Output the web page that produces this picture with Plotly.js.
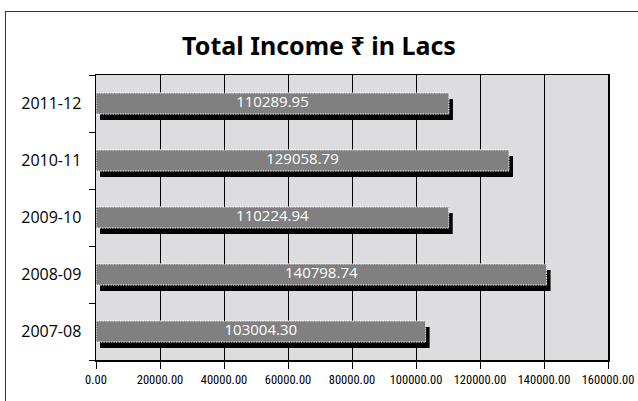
<!DOCTYPE html>
<html><head><meta charset="utf-8">
<script src="https://cdn.plot.ly/plotly-3.0.1.min.js"></script>
<style>
html,body{margin:0;padding:0;background:#fff;}
#wrap{position:relative;width:638px;height:401px;overflow:hidden;}
#frame{position:absolute;left:5px;top:11px;width:700px;height:500px;border:1.5px solid #333;pointer-events:none;z-index:5;}
#chart{position:absolute;left:0;top:0;width:638px;height:401px;}
</style></head>
<body><div id="wrap"><div id="chart"></div><div id="frame"></div></div>
<script>
const years = ["2007-08","2008-09","2009-10","2010-11","2011-12"];
const income = [103004.30,140798.74,110224.94,129058.79,110289.95];
const labels = ["103004.30","140798.74","110224.94","129058.79","110289.95"];
const xTicks = [0,20000,40000,60000,80000,100000,120000,140000,160000];

const shadow = {type:'bar',orientation:'h',y:years,x:income,width:0.37,
  marker:{color:'#000'},hoverinfo:'skip',showlegend:false};
const main = {type:'bar',orientation:'h',y:years,x:income,width:0.37,
  marker:{color:'#808080',line:{color:'#ffffff',width:1}},
  textposition:'none',showlegend:false};
// value labels centred in each bar (midpoint of the bar, from the data)
const valueText = {type:'scatter',mode:'text',y:years,x:income.map(v=>v/2),
  text:labels,textposition:'middle center',
  textfont:{color:'#ffffff',size:15,family:'"Open Sans", "Noto Sans", sans-serif'},
  hoverinfo:'skip',showlegend:false,cliponaxis:false};

const layout = {
  width:638,height:401,
  margin:{l:96,r:30,t:75,b:41,pad:0},
  paper_bgcolor:'#ffffff',plot_bgcolor:'#dddddf',
  barmode:'overlay',
  title:{text:'Total Income ₹ in Lacs',x:0.5,xanchor:'center',y:0.885,yanchor:'middle',
    font:{family:'"Noto Sans", "DejaVu Sans", sans-serif',size:25,color:'#000',weight:700}},
  xaxis:{range:[0,160000],tickvals:xTicks,tickformat:'.2f',showgrid:true,gridcolor:'#000',gridwidth:1,
    showline:true,linecolor:'#000',linewidth:1.5,mirror:true,ticks:'outside',ticklen:7,tickcolor:'#000',
    tickfont:{family:'"Liberation Sans Narrow", "Roboto Condensed", "DejaVu Sans Condensed", sans-serif',size:12.5,color:'#000'},
    zeroline:false,fixedrange:true},
  yaxis:{type:'category',categoryorder:'array',categoryarray:years,showgrid:false,
    showline:true,linecolor:'#000',linewidth:1.5,mirror:true,ticks:'outside',ticklen:6,tickcolor:'#000',
    tickson:'boundaries',ticklabelstandoff:10,
    tickfont:{family:'"Open Sans", "Noto Sans", sans-serif',size:16,color:'#000'},fixedrange:true}
};

Plotly.newPlot('chart',[shadow,main,valueText],layout,{staticPlot:true}).then(function(){
  const traces = document.querySelectorAll('#chart .barlayer .trace');
  if(traces.length>=2){
    traces[0].querySelectorAll('path').forEach(p=>p.setAttribute('transform','translate(4,6)'));
    traces[1].querySelectorAll('path').forEach(p=>{p.style.strokeDasharray='1.5,1';});
  }
});
</script></body></html>
